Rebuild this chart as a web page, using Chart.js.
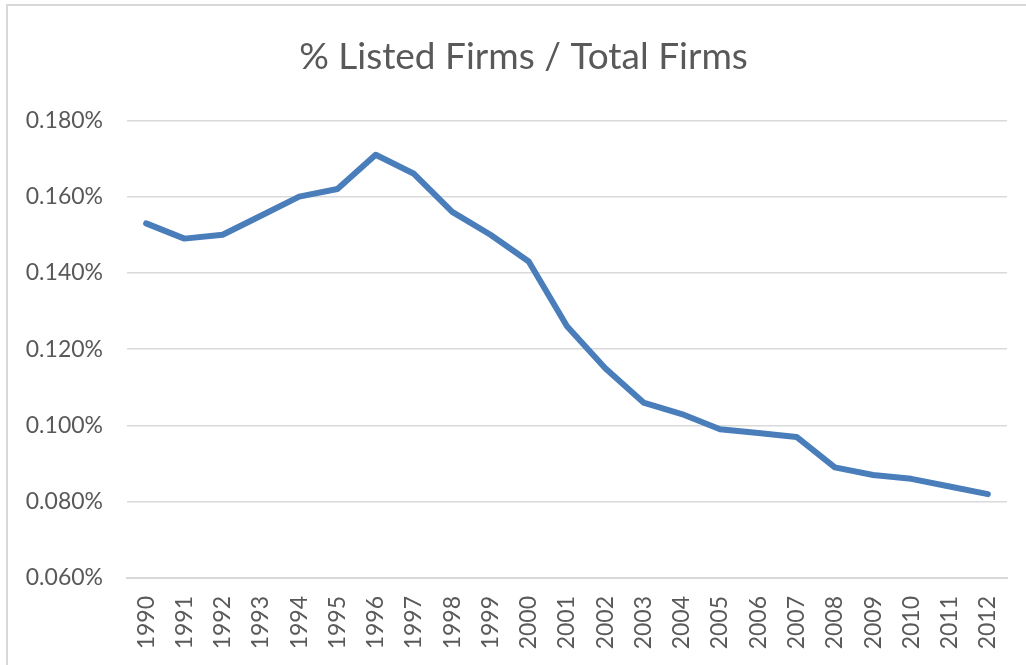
<!DOCTYPE html>
<html>
<head>
<meta charset="utf-8">
<script src="https://cdn.jsdelivr.net/npm/chart.js@4"></script>
<style>
  html, body { margin: 0; padding: 0; background: #ffffff; overflow: hidden; }
  #frame { position: absolute; left: 6px; top: 4px; width: 1100px; height: 700px;
           border-left: 2px solid #d9d9d9; border-top: 2px solid #d9d9d9; }
  #c { position: absolute; left: 0; top: 0; }
</style>
</head>
<body>
<div id="frame"></div>
<canvas id="c" width="1026" height="665"></canvas>
<script>
const titleText = "% Listed Firms / Total Firms";
const years = ["1990","1991","1992","1993","1994","1995","1996","1997","1998","1999","2000","2001","2002","2003","2004","2005","2006","2007","2008","2009","2010","2011","2012"];
const listedShare = [0.153,0.149,0.150,0.155,0.160,0.162,0.171,0.166,0.156,0.150,0.143,0.126,0.115,0.106,0.103,0.099,0.098,0.097,0.089,0.087,0.086,0.084,0.082];
const yMin = 0.060, yMax = 0.180, yStep = 0.020;

const textColor = "#595959";
const fontFamily = "Lato, 'Liberation Sans', sans-serif";

// The reference chart is cropped on the right, so its title sits right of the canvas centre.
const titleShift = {
  id: "titleShift",
  afterLayout(chart) {
    if (chart.titleBlock) chart.titleBlock.left += 40;
  }
};

new Chart(document.getElementById("c"), {
  type: "line",
  data: {
    labels: years,
    datasets: [{
      data: listedShare,
      borderColor: "#4a7ebb",
      borderWidth: 6,
      borderCapStyle: "round",
      borderJoinStyle: "round",
      pointRadius: 0,
      tension: 0,
      fill: false
    }]
  },
  plugins: [titleShift],
  options: {
    responsive: false,
    animation: false,
    layout: { padding: { left: 0, right: 19, top: 0, bottom: 0 } },
    plugins: {
      legend: { display: false },
      tooltip: { enabled: false },
      title: {
        display: true,
        text: titleText,
        color: textColor,
        font: { family: fontFamily, size: 37, weight: "normal" },
        padding: { top: 35, bottom: 41 }
      }
    },
    scales: {
      x: {
        offset: true,
        grid: { display: false, drawTicks: false },
        border: { display: true, color: "#d9d9d9", width: 2 },
        ticks: {
          color: textColor,
          font: { family: fontFamily, size: 23 },
          minRotation: 90, maxRotation: 90,
          padding: 18,
          autoSkip: false
        },
        afterFit: (s) => { s.height = 87; s.paddingLeft = 0; s.paddingRight = 0; }
      },
      y: {
        min: yMin, max: yMax,
        grid: { color: "#d9d9d9", lineWidth: 1.5, drawTicks: false },
        border: { display: false },
        ticks: {
          stepSize: yStep,
          color: textColor,
          font: { family: fontFamily, size: 23 },
          padding: 24,
          callback: (v) => v.toFixed(3) + "%"
        },
        afterFit: (s) => { s.width = 127; }
      }
    }
  }
});
</script>
</body>
</html>
